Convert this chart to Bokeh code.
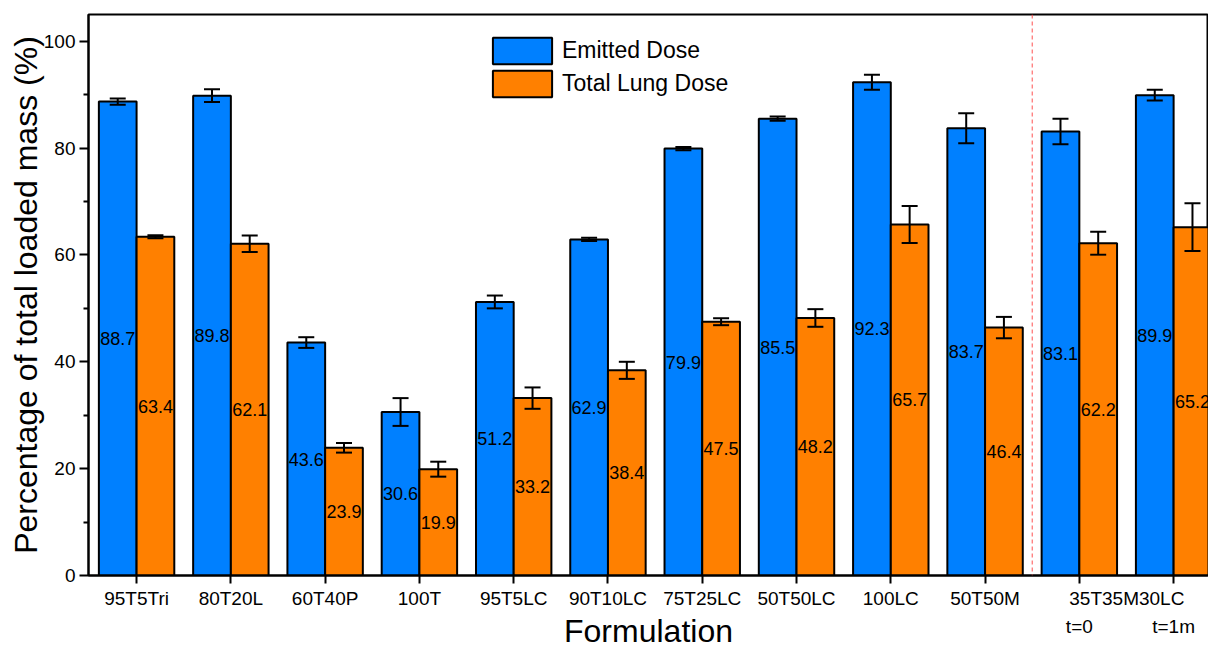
from bokeh.plotting import figure
from bokeh.models import (ColumnDataSource, FixedTicker, Whisker, TeeHead, Legend, LegendItem,
                          Span, Range1d)
from bokeh.core.properties import value
from bokeh.embed import file_html
from bokeh.resources import INLINE

categories = ["95T5Tri", "80T20L", "60T40P", "100T", "95T5LC", "90T10LC", "75T25LC",
              "50T50LC", "100LC", "50T50M", "35T35M30LC t=0", "35T35M30LC t=1m"]
emitted = [88.7, 89.8, 43.6, 30.6, 51.2, 62.9, 79.9, 85.5, 92.3, 83.7, 83.1, 89.9]
emitted_err = [0.6, 1.2, 1.0, 2.6, 1.2, 0.3, 0.3, 0.4, 1.4, 2.8, 2.4, 1.0]
lung = [63.4, 62.1, 23.9, 19.9, 33.2, 38.4, 47.5, 48.2, 65.7, 46.4, 62.2, 65.2]
lung_err = [0.3, 1.55, 0.9, 1.4, 2.0, 1.6, 0.65, 1.65, 3.45, 2.0, 2.15, 4.45]
tick_labels = ["95T5Tri", "80T20L", "60T40P", "100T", "95T5LC", "90T10LC", "75T25LC",
               "50T50LC", "100LC", "50T50M", "t=0", "t=1m"]
group_label = "35T35M30LC"

FONT = "Liberation Sans"
BLUE = "#0080ff"
ORANGE = "#ff8000"

idx = list(range(1, len(categories) + 1))
xb = [i - 0.2 for i in idx]
xo = [i + 0.2 for i in idx]

src_b = ColumnDataSource(dict(x=xb, top=emitted, half=[v / 2 for v in emitted],
                              txt=[f"{v:.1f}" for v in emitted],
                              lo=[v - e for v, e in zip(emitted, emitted_err)],
                              hi=[v + e for v, e in zip(emitted, emitted_err)]))
src_o = ColumnDataSource(dict(x=xo, top=lung, half=[v / 2 for v in lung],
                              txt=[f"{v:.1f}" for v in lung],
                              lo=[v - e for v, e in zip(lung, lung_err)],
                              hi=[v + e for v, e in zip(lung, lung_err)]))

p = figure(width=1208, height=651, output_backend="svg", toolbar_location=None,
           x_range=Range1d(0.49, 12.37), y_range=Range1d(0, 105),
           min_border_left=88, min_border_right=0, min_border_top=14, min_border_bottom=73)
p.grid.visible = False
p.outline_line_color = "black"
p.outline_line_width = 2
p.background_fill_color = "white"
p.border_fill_color = "white"

rb = p.vbar(x="x", top="top", width=0.4, source=src_b, fill_color=BLUE,
            line_color="black", line_width=2)
ro = p.vbar(x="x", top="top", width=0.4, source=src_o, fill_color=ORANGE,
            line_color="black", line_width=2)

for s in (src_b, src_o):
    p.text(x="x", y="half", text="txt", source=s, text_align="center",
           text_baseline="middle", text_font=value(FONT), text_font_size="18px",
           text_color="black")
    w = Whisker(base="x", upper="hi", lower="lo", source=s, line_width=2, line_color="black",
                level="overlay",
                upper_head=TeeHead(size=16, line_width=2, line_color="black"),
                lower_head=TeeHead(size=16, line_width=2, line_color="black"))
    p.add_layout(w)

# separator
p.add_layout(Span(location=10.5, dimension="height", line_color="#ff5050", line_width=1,
                  line_dash="4 3"))

# axes
NB = "\u00a0"
overrides = {i: t for i, t in zip(idx[:10], tick_labels[:10])}
overrides[11] = NB * 18 + group_label + "\n" + tick_labels[10]
overrides[12] = NB + "\n" + tick_labels[11]

xa = p.xaxis[0]
xa.ticker = FixedTicker(ticks=idx)
xa.major_label_overrides = overrides
xa.axis_label = "Formulation"
ya = p.yaxis[0]
ya.ticker = FixedTicker(ticks=[0, 20, 40, 60, 80, 100], minor_ticks=[10, 30, 50, 70, 90])
ya.axis_label = "Percentage of total loaded mass (%)"
for ax in (xa, ya):
    ax.axis_line_width = 2
    ax.axis_line_color = "black"
    ax.major_tick_line_width = 2
    ax.major_tick_line_color = "black"
    ax.major_tick_out = 8
    ax.major_tick_in = 0
    ax.major_label_text_font = FONT
    ax.major_label_text_font_size = "19px"
    ax.major_label_text_color = "black"
    ax.axis_label_text_font = FONT
    ax.axis_label_text_font_size = "32px"
    ax.axis_label_text_font_style = "normal"
    ax.axis_label_text_color = "black"
xa.minor_tick_line_color = None
ya.minor_tick_line_width = 2
ya.minor_tick_line_color = "black"
ya.minor_tick_out = 5
ya.minor_tick_in = 0
ya.major_tick_out = 9
xa.major_label_standoff = 4
xa.major_label_text_line_height = 1.35
xa.axis_label_standoff = -27
ya.major_label_standoff = 4
ya.axis_label_standoff = -3

legend = Legend(items=[LegendItem(label="Emitted Dose", renderers=[rb]),
                       LegendItem(label="Total Lung Dose", renderers=[ro])],
                location=(397, 475), orientation="vertical", padding=0, margin=0,
                spacing=0, glyph_width=74, glyph_height=33, label_height=33,
                label_standoff=3, label_text_font=FONT, label_text_font_size="23px",
                label_text_color="black", label_text_baseline="middle",
                border_line_alpha=0, background_fill_alpha=0)
p.add_layout(legend)

open("out.html", "w").write(file_html(p, INLINE))
